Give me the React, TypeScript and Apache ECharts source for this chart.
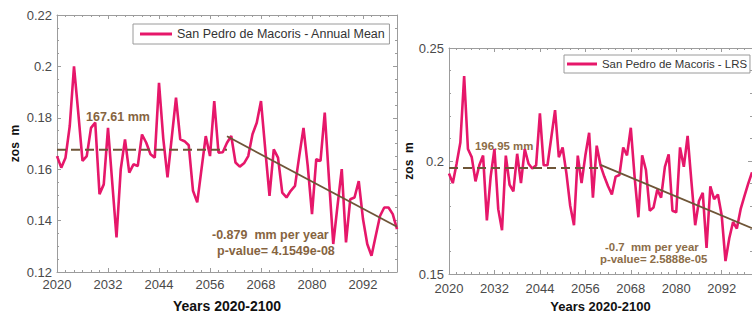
import React, { useEffect, useRef } from "react";
import * as echarts from "echarts";

const startYear = 2020;
const endYear = 2100;
const tickLabelsNote = "ticks every 12 years from 2020";

const leftValues = [
  0.1651, 0.1606, 0.1645, 0.1768, 0.2, 0.182, 0.1632, 0.1651, 0.1761, 0.1781,
  0.1503, 0.1541, 0.1761, 0.1548, 0.1335, 0.16, 0.1716, 0.1587, 0.1619, 0.1612,
  0.1735, 0.1703, 0.1658, 0.1645, 0.1936, 0.172, 0.1568, 0.1723, 0.1878, 0.1716,
  0.1709, 0.1693, 0.1516, 0.1471, 0.16, 0.1729, 0.1651, 0.1865, 0.1664, 0.1666,
  0.1703, 0.1729, 0.1626, 0.161, 0.1623, 0.1651, 0.1736, 0.1781, 0.1865, 0.1677,
  0.1496, 0.1677, 0.1645, 0.1509, 0.149, 0.1516, 0.1535, 0.1651, 0.1761, 0.1612,
  0.1425, 0.1639, 0.1632, 0.182, 0.156, 0.1309, 0.1457, 0.16, 0.1315, 0.1483,
  0.149, 0.1554, 0.1406, 0.1309, 0.1263, 0.1341, 0.1418, 0.1451, 0.1451, 0.1425,
  0.1367,
];

const rightValues = [
  0.1945, 0.1902, 0.1988, 0.2082, 0.2376, 0.2053, 0.2017, 0.191, 0.1981, 0.2024,
  0.1737, 0.1931, 0.2053, 0.1787, 0.1694, 0.2024, 0.1895, 0.1866, 0.2032, 0.1902,
  0.2053, 0.1988, 0.1967, 0.1981, 0.2211, 0.1981, 0.1981, 0.2103, 0.2225, 0.2017,
  0.206, 0.1945, 0.1802, 0.1716, 0.2024, 0.1902, 0.2024, 0.2125, 0.1838, 0.2068,
  0.1981, 0.1931, 0.1888, 0.1852, 0.1931, 0.1938, 0.206, 0.2025, 0.2147, 0.1931,
  0.1751, 0.2025, 0.196, 0.178, 0.1794, 0.1874, 0.1838, 0.1974, 0.2029, 0.178,
  0.1773, 0.206, 0.1974, 0.2111, 0.191, 0.1716, 0.1823, 0.1859, 0.1615, 0.1888,
  0.1831, 0.1852, 0.1759, 0.1557, 0.1658, 0.173, 0.1701, 0.1787, 0.1845, 0.19,
  0.195,
];

// mean lines: [start year, end year, value]
const leftMean = [2020, 2060, 0.16761];
const rightMean = [2020, 2060, 0.19695];
// trend lines: [start year, start value, end year, end value]
const leftTrend = [2060, 0.1728, 2100, 0.1376];
const rightTrend = [2060, 0.1983, 2100, 0.1703];

const leftName = "San Pedro de Macoris - Annual Mean";
const rightName = "San Pedro de Macoris - LRS";
const leftTexts = ["167.61 mm", "-0.879  mm per year", "p-value= 4.1549e-08"];
const rightTexts = ["196.95 mm", "-0.7  mm per year", "p-value= 2.5888e-05"];

const FONT = "'Liberation Sans', Arial, sans-serif";
const PINK = "#e6176a";
const BROWN_LINE = "#6e5537";
const AXIS = "#9c9c9c";
const LABEL = "#4a4a4a";

function pairs(values: number[]) {
  return values.map((v, i) => [startYear + i, v]);
}

function xAxes(gridIndex: number, margin: number, nameGap: number, nameSize: number, labelSize: number) {
  const common = {
    type: "value",
    gridIndex,
    min: startYear,
    max: endYear,
    interval: 12,
    splitLine: { show: false },
    axisLine: { show: true, onZero: false, lineStyle: { color: AXIS, width: 1 } },
    axisTick: { show: true, inside: true, length: 4, lineStyle: { color: AXIS } },
    minorTick: { show: true, splitNumber: 6, length: 2, lineStyle: { color: AXIS } },
  };
  return [
    {
      ...common,
      position: "bottom",
      axisLabel: {
        show: true,
        margin,
        color: LABEL,
        fontSize: labelSize,
        fontFamily: FONT,
        showMaxLabel: false,
        formatter: (v: number) => String(v),
      },
      name: "Years 2020-2100",
      nameLocation: "middle",
      nameGap,
      nameTextStyle: { fontWeight: "bold", fontSize: nameSize, color: "#111", fontFamily: FONT },
    },
    { ...common, position: "top", axisLabel: { show: false } },
  ];
}

function yAxes(gridIndex: number, min: number, max: number, interval: number, minorSplit: number, nameGap: number, labelSize: number) {
  const common = {
    type: "value",
    gridIndex,
    min,
    max,
    interval,
    splitLine: { show: false },
    axisLine: { show: true, onZero: false, lineStyle: { color: AXIS, width: 1 } },
    axisTick: { show: true, inside: true, length: 4, lineStyle: { color: AXIS } },
    minorTick: { show: true, splitNumber: minorSplit, length: 2, lineStyle: { color: AXIS } },
  };
  return [
    {
      ...common,
      position: "left",
      axisLabel: { show: true, margin: 5, color: LABEL, fontSize: labelSize, fontFamily: FONT },
      name: "zos  m",
      nameLocation: "middle",
      nameGap,
      nameTextStyle: { fontWeight: "bold", fontSize: 12, color: "#111", fontFamily: FONT },
    },
    { ...common, position: "right", axisLabel: { show: false } },
  ];
}

export default function App() {
  const ref = useRef<HTMLDivElement>(null);
  useEffect(() => {
    if (!ref.current) return;
    const chart = echarts.init(ref.current, undefined, { renderer: "svg" });
    const xs = [...xAxes(0, 6, 27, 14, 13), ...xAxes(1, 8, 26, 13, 13)];
    const ys = [
      ...yAxes(0, 0.12, 0.22, 0.02, 4, 36, 13),
      ...yAxes(1, 0.15, 0.25, 0.05, 5, 33, 13),
    ];
    const textEl = (txt: string, x: number, y: number, size: number, color: string) => ({
      type: "text",
      x,
      y,
      style: {
        text: txt,
        fill: color,
        font: `bold ${size}px ${FONT}`,
        textAlign: "left",
        textVerticalAlign: "middle",
      },
    });
    chart.setOption({
      animation: false,
      backgroundColor: "#ffffff",
      grid: [
        { left: 57, top: 15, width: 340, height: 258 },
        { left: 449, top: 48, width: 315, height: 231 },
      ],
      xAxis: xs,
      yAxis: ys,
      legend: [
        {
          data: [leftName],
          left: 133,
          top: 24,
          icon: "rect",
          itemWidth: 32,
          itemHeight: 3,
          padding: [3, 4, 3, 7],
          borderColor: "#9a9a9a",
          borderWidth: 1,
          backgroundColor: "#fff",
          selectedMode: false,
          textStyle: { fontSize: 12.5, lineHeight: 14, color: "#333", fontFamily: FONT },
        },
        {
          data: [rightName],
          left: 564,
          top: 55,
          icon: "rect",
          itemWidth: 30,
          itemHeight: 3,
          padding: [2, 3, 2, 3],
          borderColor: "#9a9a9a",
          borderWidth: 1,
          backgroundColor: "#fff",
          selectedMode: false,
          textStyle: { fontSize: 11.4, lineHeight: 14, color: "#333", fontFamily: FONT },
        },
      ],
      series: [
        {
          type: "line",
          name: leftName,
          xAxisIndex: 0,
          yAxisIndex: 0,
          data: pairs(leftValues),
          showSymbol: false,
          lineStyle: { color: PINK, width: 2.6 },
          itemStyle: { color: PINK },
        },
        {
          type: "line",
          name: "meanL",
          xAxisIndex: 0,
          yAxisIndex: 0,
          data: [[leftMean[0], leftMean[2]], [leftMean[1], leftMean[2]]],
          showSymbol: false,
          lineStyle: { color: BROWN_LINE, width: 2, type: [9, 5] },
        },
        {
          type: "line",
          name: "trendL",
          xAxisIndex: 0,
          yAxisIndex: 0,
          data: [[leftTrend[0], leftTrend[1]], [leftTrend[2], leftTrend[3]]],
          showSymbol: false,
          lineStyle: { color: BROWN_LINE, width: 1.8 },
        },
        {
          type: "line",
          name: rightName,
          xAxisIndex: 2,
          yAxisIndex: 2,
          data: pairs(rightValues),
          showSymbol: false,
          lineStyle: { color: PINK, width: 2.6 },
          itemStyle: { color: PINK },
        },
        {
          type: "line",
          name: "meanR",
          xAxisIndex: 2,
          yAxisIndex: 2,
          data: [[rightMean[0], rightMean[2]], [rightMean[1], rightMean[2]]],
          showSymbol: false,
          lineStyle: { color: BROWN_LINE, width: 2, type: [9, 5] },
        },
        {
          type: "line",
          name: "trendR",
          xAxisIndex: 2,
          yAxisIndex: 2,
          data: [[rightTrend[0], rightTrend[1]], [rightTrend[2], rightTrend[3]]],
          showSymbol: false,
          lineStyle: { color: BROWN_LINE, width: 1.8 },
        },
      ],
      graphic: [
        textEl(leftTexts[0], 86, 117, 12.5, "#86643f"),
        textEl(leftTexts[1], 212, 235, 12.5, "#86643f"),
        textEl(leftTexts[2], 217, 251, 12.5, "#86643f"),
        textEl(rightTexts[0], 475, 146, 11.4, "#8c6d48"),
        textEl(rightTexts[1], 605, 247, 11.4, "#8c6d48"),
        textEl(rightTexts[2], 600, 259, 11.4, "#8c6d48"),
      ],
    });
    return () => chart.dispose();
  }, []);
  return (
    <div
      ref={ref}
      data-note={tickLabelsNote}
      style={{ position: "fixed", left: 0, top: 0, width: 752, height: 318, overflow: "hidden" }}
    />
  );
}
